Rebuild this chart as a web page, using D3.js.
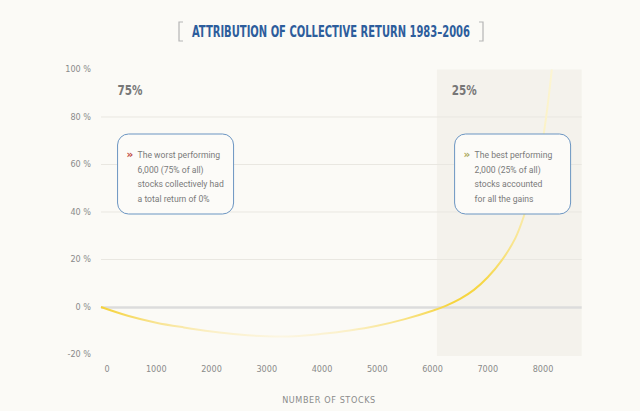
<!DOCTYPE html>
<html><head><meta charset="utf-8">
<script src="https://cdn.jsdelivr.net/npm/d3@7"></script>
<style>
html,body{margin:0;padding:0;background:#fbfaf6;}
svg{display:block;}
</style></head>
<body><div id="chart"></div>
<script>
const stocks = [0,500,1000,1500,2000,2500,3000,3500,4000,4500,5000,5500,6000,6250,6500,6750,7000,7250,7500,7650,7800,7900,8000,8080,8160];
const cumReturn = [0,-3.8,-6.6,-8.6,-10.3,-11.6,-12.3,-12.3,-11.3,-9.9,-7.9,-5.1,-1.6,0.6,3.4,7.2,12.5,19.5,29,38,50,59.5,71,84,100];
const yTicks = [-20,0,20,40,60,80,100];
const xTicks = [0,1000,2000,3000,4000,5000,6000,7000,8000];
const shadeRange = [6080,8700];
const titleText = "ATTRIBUTION OF COLLECTIVE RETURN 1983–2006";
const xLabel = "NUMBER OF STOCKS";
const groupLabels = [{x:300, text:"75%"},{x:6350, text:"25%"}];
const notes = [
  {x:300, lines:["The worst performing","6,000 (75% of all)","stocks collectively had","a total return of 0%"], mark:"#c0453a"},
  {x:6400, lines:["The best performing","2,000 (25% of all)","stocks accounted","for all the gains"], mark:"#aaa85a"}
];

const W=640,H=411;
const svg=d3.select("#chart").append("svg").attr("width",W).attr("height",H);
const cond = "'Liberation Sans Narrow','DejaVu Sans Condensed','Roboto Condensed',Roboto,sans-serif";
const x=d3.scaleLinear().domain([0,8000]).range([101,543]);
const y=d3.scaleLinear().domain([-20,100]).range([354.5,69.5]);

svg.append("rect").attr("width",W).attr("height",H).attr("fill","#fbfaf6");

// shaded region
svg.append("rect").attr("x",x(shadeRange[0])).attr("width",x(shadeRange[1])-x(shadeRange[0]))
  .attr("y",y(100)).attr("height",y(-20)-y(100)+1.5).attr("fill","#f4f2ec");

// gridlines
const gridX1 = x(0), gridX2 = x(shadeRange[1]);
svg.append("g").selectAll("line").data(yTicks.filter(d=>d!==0 && d!==100 && d!==-20)).join("line")
  .attr("x1",gridX1).attr("x2",gridX2).attr("y1",d=>y(d)).attr("y2",d=>y(d))
  .attr("stroke","#e9e7e1").attr("stroke-width",1);
svg.append("line").attr("x1",gridX1).attr("x2",gridX2).attr("y1",y(0)+0.5).attr("y2",y(0)+0.5)
  .attr("stroke","#dcdcdc").attr("stroke-width",2.5);

// y labels
svg.append("g").selectAll("text").data(yTicks).join("text")
  .attr("x",91).attr("y",d=>y(d)).attr("dy","0.3em").attr("text-anchor","end")
  .attr("font-family",cond).attr("font-size",9).attr("fill","#8a8a8a").text(d=>d+" %");

// x labels
svg.append("g").selectAll("text").data(xTicks).join("text")
  .attr("x",d=>x(d)+(d===0?6:0)).attr("y",372).attr("text-anchor","middle")
  .attr("font-family",cond).attr("font-size",9).attr("fill","#8a8a8a").text(d=>d);
svg.append("text").attr("x",329).attr("y",403).attr("text-anchor","middle")
  .attr("font-family",cond).attr("font-size",9).attr("letter-spacing",0.6).attr("fill","#8a8a8a").text(xLabel);

// gradient for curve
const defs=svg.append("defs");
const g=defs.append("linearGradient").attr("id","cg").attr("gradientUnits","userSpaceOnUse")
  .attr("x1",x(0)).attr("x2",x(8160)).attr("y1",0).attr("y2",0);
[[0,"#f6d236"],[0.12,"#f8e390"],[0.25,"#fbf0c8"],[0.4,"#fcf6e2"],[0.55,"#fbf0c8"],[0.7,"#f8df74"],
 [0.78,"#f6d43c"],[0.85,"#f6d747"],[0.9,"#f8e282"],[0.95,"#faecb0"],[1,"#fcf5d2"]]
  .forEach(s=>g.append("stop").attr("offset",s[0]).attr("stop-color",s[1]));

const line=d3.line().x((d,i)=>x(stocks[i])).y(d=>y(d)).curve(d3.curveCatmullRom.alpha(0.5));
svg.append("path").attr("d",line(cumReturn)).attr("fill","none").attr("stroke","url(#cg)").attr("stroke-width",2);

// group labels
svg.append("g").selectAll("text").data(groupLabels).join("text")
  .attr("x",d=>x(d.x)).attr("y",95).attr("font-family",cond).attr("font-weight","bold")
  .attr("font-size",14).attr("textLength",25).attr("lengthAdjust","spacingAndGlyphs")
  .attr("fill","#777").text(d=>d.text);

// note boxes
const nb=svg.append("g").selectAll("g").data(notes).join("g")
  .attr("transform",d=>`translate(${x(d.x)},134)`);
nb.append("rect").attr("width",116).attr("height",80).attr("rx",11)
  .attr("fill","#fcfbf8").attr("stroke","#6b95c2").attr("stroke-width",1);
nb.append("text").attr("x",9).attr("y",24).attr("font-family","'DejaVu Sans',sans-serif").attr("font-weight","bold")
  .attr("font-size",10.5).attr("fill",d=>d.mark).text("»");
nb.each(function(d){
  const t=d3.select(this).append("text").attr("font-family","Roboto,'Liberation Sans',sans-serif")
    .attr("font-size",8.6).attr("fill","#7a7a7a");
  d.lines.forEach((l,i)=>t.append("tspan").attr("x",20).attr("y",24+i*14.5).text(l));
});

// title
svg.append("text").attr("x",331).attr("y",36.5).attr("text-anchor","middle")
  .attr("font-family",cond).attr("font-weight","bold").attr("font-size",15)
  .attr("textLength",278).attr("lengthAdjust","spacingAndGlyphs")
  .attr("fill","#2d5d9c").text(titleText);
[[179,1],[483,-1]].forEach(([bx,dir])=>{
  svg.append("path").attr("d",`M${bx+4*dir},22 H${bx} V41 H${bx+4*dir}`)
    .attr("fill","none").attr("stroke","#b5b5b5").attr("stroke-width",1.2);
});
</script></body></html>
